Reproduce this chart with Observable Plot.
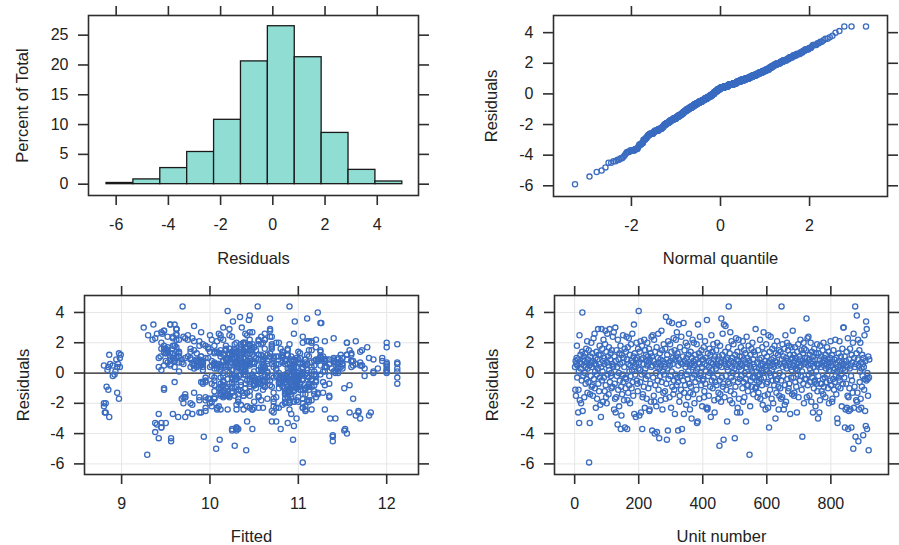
<!DOCTYPE html>
<html><head><meta charset="utf-8">
<script src="https://cdn.jsdelivr.net/npm/d3@7"></script>
<script src="https://cdn.jsdelivr.net/npm/@observablehq/plot@0.6"></script>
<style>
body{margin:0;background:#fff;}
#wrap{position:relative;width:899px;height:545px;overflow:hidden;font-family:"Liberation Sans",Arial,Helvetica,sans-serif;}
#wrap svg{position:absolute;}
</style></head><body><div id="wrap"></div>
<script>
// Histogram
const histBreaks = [-6.37,-5.34,-4.31,-3.28,-2.25,-1.22,-0.19,0.84,1.87,2.90,3.93,4.96];
const histPercent = [0.2,0.8,2.7,5.4,10.8,20.6,26.5,21.3,8.6,2.4,0.45];

// Residuals in unit order (unit number = position + 1)
const residuals = [
0.4,-1.1,0.8,-1.5,0.6,1.0,1.8,-0.3,0.5,0.9,-2.6,-1.1,0.1,-3.3,2.5,-1.8,0.7,1.2,0.3,-2.0,0.6,-0.5,1.4,4.0,-2.5,0.9,-0.2,1.1,0.5,-1.6,0.8,0.0,1.3,-0.7,0.4,1.6,-0.4,0.7,2.1,-1.3,
0.3,0.9,-0.6,1.5,-5.9,0.5,-3.3,-1.4,1.1,-0.2,0.7,2.0,-0.9,0.4,1.3,-0.8,-1.5,0.8,2.3,-0.4,0.6,2.6,-1.0,0.1,1.0,-2.3,0.5,1.4,-0.1,-1.7,0.9,0.3,2.9,-0.7,1.2,-1.2,0.6,1.8,-0.3,-2.1,
1.2,-2.9,0.4,2.9,-0.5,1.6,0.1,-1.9,0.8,2.2,-0.3,1.0,0.6,-1.2,1.9,2.8,-0.8,-1.6,1.4,-2.0,0.7,2.6,-0.1,1.1,0.5,-1.4,1.7,0.2,2.9,-0.6,0.9,1.3,-0.2,0.0,-1.0,1.5,0.6,-0.9,2.4,0.4,
0.5,2.7,-2.4,1.1,-0.7,-1.7,3.0,-2.6,0.8,-1.6,1.5,-0.2,0.4,-3.4,2.2,-1.1,0.9,0.0,-2.2,1.3,-0.5,0.6,1.8,-3.7,-0.9,-2.8,1.2,-1.4,0.7,-0.1,2.5,-0.6,1.0,-1.8,0.4,1.6,-3.6,-0.3,-1.0,1.4,
-0.4,2.4,0.9,-3.7,-1.8,1.7,-1.3,0.6,2.3,-0.8,0.1,1.2,-2.0,0.5,-0.2,1.9,0.8,-1.0,0.2,2.6,-0.6,0.7,-1.5,1.1,3.2,-2.7,0.4,1.3,-0.1,0.9,-2.9,0.6,2.0,-0.5,1.0,-0.7,-1.2,1.6,0.3,4.1,
0.7,-2.8,1.4,0.2,-0.6,2.1,-2.6,0.9,-0.1,1.8,-3.7,-1.6,-1.4,1.0,0.6,-0.9,2.2,0.0,-2.3,1.5,0.3,-0.4,1.2,0.8,-1.7,0.5,2.0,-0.2,1.1,-1.0,0.7,1.6,-2.5,-2.4,0.9,-0.7,1.3,-1.9,0.4,2.4,
1.1,-3.8,0.5,2.5,-0.3,0.8,-1.5,2.2,-1.9,-4.0,1.4,-0.8,0.6,0.0,-2.2,1.7,-3.9,0.4,-0.5,1.0,2.6,-1.1,0.7,-4.3,0.3,1.3,-0.2,0.9,-1.8,0.5,2.8,-0.6,1.5,-2.4,0.1,0.8,-1.3,1.9,-0.1,0.6,
0.4,-1.2,1.6,-1.7,3.7,-0.7,0.9,-4.4,1.2,0.3,-3.8,2.1,-0.4,0.7,3.4,-1.6,0.5,1.9,-0.2,0.8,-2.3,1.4,0.1,3.3,-0.9,0.6,1.0,-1.4,2.3,-0.5,-1.1,1.5,-2.7,0.9,-0.1,2.2,1.1,-0.8,2.7,-0.3,
1.3,-0.6,-3.8,0.5,3.2,0.9,-1.9,-1.5,1.7,-0.2,0.7,-1.1,2.4,0.0,-3.7,0.6,-4.5,1.1,-0.5,3.3,-2.7,-1.3,1.5,0.8,-0.8,0.4,2.0,-2.1,1.0,-0.1,0.6,1.8,-0.4,-1.6,0.1,1.2,2.6,-0.7,0.5,-2.4,
-1.3,1.4,-0.9,0.6,-3.0,1.0,-0.3,2.2,0.4,-1.4,0.8,2.0,-0.1,-2.0,0.5,1.2,-0.6,0.9,0.1,-1.1,1.9,-3.3,0.3,-3.2,3.2,0.7,-0.4,1.3,-1.7,0.6,2.4,-0.2,1.1,0.0,-0.8,1.5,0.4,-2.2,0.9,-0.5,
0.9,-0.4,1.7,-1.6,-1.2,0.6,2.1,-0.7,1.0,0.1,-2.3,0.5,3.5,-2.4,-2.3,1.3,-0.2,0.8,-1.5,0.4,1.6,0.0,-0.9,1.2,-2.9,0.7,2.5,-0.5,0.2,1.4,-1.0,0.6,1.9,-0.3,0.9,-1.8,-2.6,1.1,-0.6,0.5,
0.3,1.5,-0.8,0.6,2.0,-0.1,0.9,-1.7,-1.3,1.1,0.5,-4.8,-0.5,1.8,-1.4,0.7,-1.9,3.6,0.4,-0.3,1.2,2.6,-0.9,-0.7,-4.4,3.2,0.8,-1.6,0.6,1.4,3.1,-0.2,0.9,-1.1,0.4,-3.2,1.0,0.2,-0.6,1.7,
4.4,0.6,-0.7,1.3,-1.8,2.7,-1.2,0.8,-0.3,2.1,0.4,-2.0,1.0,0.0,-0.5,1.9,0.7,-1.4,0.3,-4.3,1.2,-0.9,0.5,2.3,-0.1,0.9,-2.6,1.4,-2.3,-0.6,0.8,2.2,-1.7,0.4,1.1,-0.4,-2.6,0.6,1.7,0.2,
-0.2,1.1,0.5,-1.0,2.1,-1.9,-0.6,0.9,1.5,-1.6,0.0,0.7,1.3,-0.4,-3.2,0.4,2.4,-0.8,0.6,1.0,-1.2,-0.8,1.8,-0.1,0.8,-5.4,0.5,-2.2,1.2,-0.5,0.3,1.6,-0.9,0.1,2.0,-0.3,0.9,-1.4,0.6,1.4,
0.4,-0.3,1.2,-1.0,2.9,-1.0,-0.9,0.1,-0.5,0.7,-1.6,-0.2,1.5,-1.3,0.3,-0.6,0.9,-0.1,2.2,-1.7,0.5,-0.4,1.0,0.2,-0.8,1.7,-2.1,0.6,0.0,2.7,-0.3,1.3,-1.5,0.4,0.8,-2.4,0.2,1.9,-0.7,0.5,
1.1,-0.6,-1.4,-2.3,2.5,0.7,-3.6,0.0,1.4,-1.1,0.5,2.4,-0.2,0.9,-1.7,0.2,1.6,-0.5,0.6,-2.0,1.0,0.4,-0.8,1.8,-0.1,0.8,-3.0,1.3,-0.5,-1.3,0.7,2.1,-0.4,0.5,1.2,-0.9,-2.4,1.5,-1.5,0.0,
0.6,-1.0,1.4,-1.7,-0.5,4.4,0.9,-1.6,1.9,0.4,-0.2,1.1,-2.4,0.7,1.6,-2.1,-0.8,2.5,0.5,-1.9,1.0,0.3,2.0,-0.4,0.8,1.5,-1.2,-1.0,1.8,-0.7,0.6,1.2,-2.7,0.4,0.9,-0.3,1.7,0.2,-1.4,1.0,
2.8,0.5,-0.3,1.2,-1.5,-1.3,0.8,1.7,-0.6,0.3,1.0,-0.9,0.6,-2.6,1.4,0.2,-0.1,1.9,-1.6,0.7,0.4,1.1,-0.5,0.9,2.2,-0.2,0.5,1.5,-1.1,0.1,-4.2,0.8,1.3,-0.7,2.0,-2.0,1.6,0.6,-0.4,1.0,
0.7,1.5,-0.4,3.6,-1.6,1.0,2.3,-0.8,0.5,2.4,-0.1,0.9,-1.5,1.2,0.3,-0.6,2.0,0.6,-1.9,0.0,1.4,-0.3,0.8,-2.6,1.1,0.4,-1.0,1.6,-0.6,-0.5,0.9,-2.2,1.3,0.1,-0.7,0.6,1.9,-1.2,0.5,-3.0,
-0.2,1.3,0.6,-2.6,0.9,-1.8,1.8,-0.7,0.4,1.1,-1.2,-0.7,0.7,1.5,-0.4,-1.4,2.0,-0.9,0.5,1.0,-0.3,0.8,-1.6,1.2,0.3,-0.6,0.6,1.7,-0.1,0.9,-1.0,0.4,1.4,-2.0,0.2,0.7,-0.5,1.0,2.1,-0.8,
0.5,-0.8,1.2,-1.9,-1.7,0.7,-0.4,1.5,0.2,-1.1,0.9,-0.6,0.3,2.2,-0.2,0.6,-1.4,1.0,0.1,-3.0,-3.3,0.4,-0.9,1.3,-0.3,0.8,2.1,-0.5,0.2,-1.0,1.1,0.5,-0.1,-2.2,0.7,1.6,-0.7,0.3,3.0,3.0,
0.6,-0.3,1.1,-3.6,0.2,-2.4,0.8,-0.7,1.4,-2.3,0.4,-1.5,2.3,-3.7,-1.6,-2.5,0.9,-1.0,0.3,1.6,-2.4,0.5,-0.2,-3.6,1.2,-0.5,0.7,-1.3,2.0,-5.0,2.6,-2.3,1.0,-0.9,0.4,4.4,-4.2,0.6,-1.8,1.3,
3.8,-1.9,-1.3,0.9,2.2,-4.5,0.5,-2.4,1.5,-0.6,0.1,2.0,-1.7,0.7,-2.3,0.3,-0.9,1.2,-0.2,0.6,-4.1,1.0,0.4,-1.1,2.5,-0.4,-2.5,0.8,-3.5,3.4,-0.5,2.9,-3.7,0.0,-0.4,-1.5,1.1,-5.1,-0.3,0.9
];

// Fitted values, same order
const fitted = [
10.35,9.48,10.92,10.12,11.05,9.62,10.45,10.98,9.85,10.28,8.82,10.6,11.3,9.38,10.22,9.95,10.82,11.55,10.4,8.8,11.1,10.05,9.52,11.22,10.7,11.85,10.33,9.9,12.0,10.88,10.15,11.42,8.97,10.5,10.95,9.78,11.0,10.25,11.65,10.42,
10.3,11.08,9.6,10.48,11.05,10.18,9.45,10.85,11.28,10.02,9.92,10.38,11.12,10.62,9.55,10.95,10.22,11.6,9.8,10.45,12.12,10.1,10.78,11.4,9.42,10.55,8.9,10.28,11.02,9.68,10.92,11.75,9.62,10.4,10.65,11.18,10.08,9.88,10.98,10.35,
10.42,8.86,11.15,10.22,10.6,10.88,8.93,10.32,11.48,10.15,10.72,9.58,11.02,10.25,10.9,9.48,10.5,11.35,10.05,8.82,11.7,10.4,10.95,9.65,10.2,11.08,10.35,12.0,10.68,10.78,11.25,10.12,8.9,10.58,10.98,9.52,11.45,10.3,10.68,8.95,
10.55,9.9,10.3,11.12,10.02,10.85,10.15,11.58,10.45,9.72,10.18,11.0,8.98,9.4,10.62,10.95,11.3,10.22,8.8,10.38,11.05,8.96,10.7,10.3,10.88,11.8,8.99,10.12,10.48,11.2,9.62,10.92,10.28,11.1,8.85,10.4,9.45,10.65,11.52,10.08,
10.95,9.52,10.25,10.32,11.15,10.5,8.95,10.78,11.4,10.05,10.38,8.86,10.9,11.62,10.15,9.92,10.42,11.08,10.6,9.46,10.85,11.3,10.2,11.25,9.55,9.58,10.98,10.3,8.92,11.0,9.72,10.45,12.0,10.68,9.98,11.12,10.35,10.8,11.9,10.2,
10.28,11.65,10.82,8.84,10.52,11.1,8.81,10.35,11.25,9.6,10.25,10.92,9.72,11.02,10.1,10.45,9.35,11.45,10.75,10.18,9.82,10.98,10.55,11.18,8.97,10.4,11.55,10.62,9.44,10.9,12.12,10.22,11.08,10.48,8.94,11.35,10.05,10.85,9.92,10.7,
10.6,11.52,10.15,9.3,10.88,11.22,10.38,9.62,10.95,11.55,10.25,10.5,8.87,11.05,10.02,10.7,9.38,11.32,10.42,8.98,10.62,11.12,10.3,9.56,10.88,9.85,11.0,10.2,10.58,11.7,9.48,10.82,10.35,11.15,9.65,11.95,10.12,10.48,10.92,10.05,
10.32,10.9,9.5,10.65,10.34,11.02,10.18,10.11,10.82,11.38,10.3,9.82,10.55,11.08,10.96,10.22,9.9,10.45,11.2,10.72,11.05,10.0,10.4,11.26,8.83,11.5,10.28,10.85,9.58,10.98,10.12,11.15,9.42,10.6,10.35,9.75,10.92,11.3,10.48,10.05,
10.42,10.98,10.25,9.88,9.36,10.6,11.12,10.18,9.52,10.75,11.42,10.32,9.7,10.88,10.8,10.05,11.39,10.5,9.95,11.25,10.92,10.38,11.58,10.15,10.68,9.6,11.05,9.8,10.28,11.18,10.45,9.48,10.85,11.0,12.0,10.22,9.62,10.55,11.72,10.12,
10.85,10.3,11.1,9.92,11.36,10.52,10.95,9.65,11.3,10.2,10.02,10.75,10.4,11.05,9.55,11.6,10.62,9.85,11.18,8.85,12.12,9.5,10.9,10.42,9.55,11.45,10.25,10.68,9.98,10.1,10.58,10.48,9.75,11.0,10.15,10.88,9.42,10.72,11.22,10.28,
10.2,11.05,10.48,9.72,10.95,10.35,11.15,9.92,10.62,11.28,10.45,10.05,10.44,10.48,10.5,9.58,10.82,11.4,10.28,9.85,10.7,11.1,10.15,11.48,9.64,10.9,10.0,11.0,9.45,10.38,10.85,11.65,10.55,10.25,9.78,10.98,11.82,10.12,9.9,10.6,
10.95,10.38,11.12,9.82,10.6,10.25,11.32,10.05,10.72,9.55,10.45,10.28,10.88,10.18,11.05,9.92,10.5,11.1,10.32,10.98,11.55,9.4,10.82,10.12,10.94,9.6,10.65,11.2,10.4,9.48,9.82,10.9,10.22,11.02,12.0,10.75,10.35,11.42,10.55,9.98,
10.9,10.3,10.98,9.65,11.12,10.45,10.2,9.9,10.82,11.3,10.58,9.78,10.38,11.05,10.15,10.7,9.52,10.92,11.45,9.42,10.25,10.62,11.18,9.38,10.48,10.85,10.72,11.0,10.08,9.95,11.62,10.55,10.32,10.0,11.25,10.88,9.88,10.42,11.78,10.12,
10.28,10.75,11.08,10.4,9.88,10.95,10.15,11.35,10.52,9.7,10.65,11.15,9.5,10.85,10.7,10.22,11.05,10.35,9.8,10.98,10.45,11.58,10.05,10.62,9.6,9.29,11.25,10.1,10.88,10.55,12.12,9.45,11.02,10.3,10.78,9.95,11.4,10.18,10.5,11.7,
10.62,11.0,10.25,10.9,9.62,10.92,10.88,10.4,11.15,9.85,10.55,10.98,10.12,11.28,10.75,10.35,9.55,11.08,10.45,10.0,11.5,10.2,10.82,9.92,10.6,11.2,10.3,10.7,11.85,9.45,10.48,11.02,10.15,9.78,10.95,10.38,12.0,10.58,11.12,10.08,
10.35,10.8,11.22,9.95,10.42,10.05,10.3,10.95,9.52,11.05,10.6,10.25,11.35,9.88,10.72,11.1,10.18,10.5,9.7,10.85,11.45,10.12,10.98,9.6,10.4,11.6,11.42,10.22,10.65,9.82,11.0,10.55,10.3,9.48,10.88,11.15,10.08,11.72,10.45,10.78,
10.88,10.28,9.62,11.05,10.45,10.54,10.95,10.15,10.35,11.3,10.7,9.9,11.08,10.5,10.22,10.82,11.18,9.75,10.4,10.02,11.5,10.62,9.45,10.98,10.3,11.25,10.85,10.1,9.58,10.58,11.65,10.42,9.8,10.92,10.2,11.12,12.0,10.75,10.32,11.95,
10.68,10.95,10.3,11.1,10.55,10.88,9.85,10.42,11.28,10.05,10.72,10.98,9.55,11.68,10.25,10.6,11.02,10.38,9.95,11.4,10.18,10.82,10.5,9.68,11.2,10.92,10.12,10.45,11.08,12.12,11.39,10.35,9.5,10.78,11.55,10.0,10.62,10.28,11.15,9.78,
10.45,11.12,10.78,10.68,10.05,11.25,9.72,10.92,10.32,9.58,10.98,11.45,10.2,10.58,11.05,9.92,10.38,10.85,11.0,10.15,9.65,10.5,11.3,9.9,10.72,11.6,10.25,9.48,10.95,10.62,11.2,10.42,10.1,11.85,10.8,12.0,10.28,10.88,9.82,11.7,
10.98,10.35,11.1,9.75,10.55,10.9,9.95,10.22,11.32,10.68,10.05,11.02,10.42,9.52,10.8,11.18,10.3,10.62,8.8,11.4,10.12,10.95,9.88,10.48,11.05,10.25,10.75,9.62,10.85,11.55,10.18,10.4,11.25,9.7,10.58,12.0,10.92,11.8,10.08,10.5,
10.4,10.95,10.15,10.72,11.62,9.85,11.05,10.28,10.55,10.9,9.6,11.2,10.35,10.02,10.82,11.35,10.2,9.72,10.65,10.98,10.88,11.48,10.12,10.45,11.0,9.92,11.12,10.6,10.25,9.48,10.78,11.72,10.38,11.08,10.5,9.98,12.12,10.08,9.25,10.36,
10.65,10.98,10.3,9.45,11.15,10.2,10.85,10.45,9.78,10.6,11.05,10.38,10.12,11.53,10.75,9.95,11.3,10.52,10.92,10.28,10.9,10.02,11.1,10.3,10.55,10.82,9.65,11.22,10.4,10.07,10.95,11.05,10.18,10.7,11.45,9.69,9.93,10.35,9.88,11.6,
10.45,10.9,10.25,11.08,10.62,9.56,10.35,11.3,9.82,10.98,10.5,11.15,10.05,9.68,10.78,11.5,10.2,10.88,11.75,10.4,11.39,9.95,10.72,11.02,10.12,10.55,11.68,9.5,10.95,10.26,11.2,9.62,10.48,12.0,10.85,11.35,10.3,10.41,12.12,10.58
];

// Tick values
const histXTicks = [-6,-4,-2,0,2,4];
const histYTicks = [0,5,10,15,20,25];
const qqXTicks = [-2,0,2];
const residTicks = [-6,-4,-2,0,2,4];
const fittedTicks = [9,10,11,12];
const unitTicks = [0,200,400,600,800];

// Inverse standard normal (Acklam)
function qnorm(p){
  const a=[-3.969683028665376e+01,2.209460984245205e+02,-2.759285104469687e+02,1.383577518672690e+02,-3.066479806614716e+01,2.506628277459239e+00];
  const b=[-5.447609879822406e+01,1.615858368580409e+02,-1.556989798598866e+02,6.680131188771972e+01,-1.328068155288572e+01];
  const c=[-7.784894002430293e-03,-3.223964580411365e-01,-2.400758277161838e+00,-2.549671010336161e+00,4.374664141464968e+00,2.938163982698783e+00];
  const d=[7.784695709041462e-03,3.224671290700398e-01,2.445134137142996e+00,3.754408661907416e+00];
  const pl=0.02425, ph=1-pl; let q,r;
  if(p<pl){q=Math.sqrt(-2*Math.log(p));return (((((c[0]*q+c[1])*q+c[2])*q+c[3])*q+c[4])*q+c[5])/((((d[0]*q+d[1])*q+d[2])*q+d[3])*q+1);}
  if(p>ph){q=Math.sqrt(-2*Math.log(1-p));return -(((((c[0]*q+c[1])*q+c[2])*q+c[3])*q+c[4])*q+c[5])/((((d[0]*q+d[1])*q+d[2])*q+d[3])*q+1);}
  q=p-0.5;r=q*q;return (((((a[0]*r+a[1])*r+a[2])*r+a[3])*r+a[4])*r+a[5])*q/(((((b[0]*r+b[1])*r+b[2])*r+b[3])*r+b[4])*r+1);
}

const n = residuals.length;
const rows = residuals.map((r,i)=>({unit:i+1, fit:fitted[i], res:r}));
const qq = residuals.slice().sort(d3.ascending).map((r,i)=>({q:qnorm((i+0.5)/n), res:r}));
const bins = histPercent.map((p,i)=>({x1:histBreaks[i], x2:histBreaks[i+1], pct:p}));

const INK = "#222", FRAME = "#2e2e2e", PT = "#3a6cc0";
const fmt = d => String(d);
const blank = () => "";

function panel(o){
  const marks = [];
  if (o.grid) {
    marks.push(Plot.gridX(o.xticks, {stroke:"#e6e6e6", strokeOpacity:1}));
    marks.push(Plot.gridY(o.yticks, {stroke:"#e6e6e6", strokeOpacity:1}));
  }
  marks.push(...o.marks);
  marks.push(Plot.frame({stroke:FRAME, strokeWidth:1.6}));
  marks.push(Plot.axisX({ticks:o.xticks, anchor:"bottom", tickSize:10, tickPadding:13, tickFormat:fmt, label:null, stroke:FRAME, strokeWidth:1.6, fill:INK, fontSize:16}));
  marks.push(Plot.axisX({ticks:o.xticks, anchor:"top", tickSize:10, tickFormat:blank, label:null, stroke:FRAME, strokeWidth:1.6}));
  marks.push(Plot.axisY({ticks:o.yticks, anchor:"left", tickSize:10, tickPadding:10, tickFormat:fmt, label:null, stroke:FRAME, strokeWidth:1.6, fill:INK, fontSize:16}));
  marks.push(Plot.axisY({ticks:o.yticks, anchor:"right", tickSize:10, tickFormat:blank, label:null, stroke:FRAME, strokeWidth:1.6}));
  marks.push(Plot.text([o.xlabel], {frameAnchor:"bottom", dy:o.xdy, lineAnchor:"middle", textAnchor:"middle", fontSize:16.5, fill:INK}));
  marks.push(Plot.text([o.ylabel], {frameAnchor:"left", dx:o.ydx, rotate:-90, lineAnchor:"middle", textAnchor:"middle", fontSize:16.5, fill:INK}));
  const svg = Plot.plot({
    width:o.width, height:o.height,
    marginLeft:o.ml, marginRight:o.mr, marginTop:o.mt, marginBottom:o.mb,
    style:{fontFamily:'"Liberation Sans", Arial, Helvetica, sans-serif', fontSize:"16px", color:INK, background:"transparent", overflow:"visible"},
    x:{domain:o.xdom, label:null},
    y:{domain:o.ydom, label:null},
    marks
  });
  svg.style.left = o.left + "px";
  svg.style.top = o.top + "px";
  document.getElementById("wrap").appendChild(svg);
}

const resDom = [-6.7, 5.12];
const dotOpts = {r:2.6, stroke:PT, strokeWidth:1.3, fill:"none"};

// Top-left: histogram
panel({left:0, top:0, width:450, height:272, ml:88, mr:32, mt:15, mb:77,
  xdom:[-7.06,5.58], ydom:[-1.9,28.3], xticks:histXTicks, yticks:histYTicks,
  xlabel:"Residuals", ylabel:"Percent of Total", xdy:63, ydx:-66,
  marks:[Plot.rectY(bins, {x1:"x1", x2:"x2", y1:0, y2:"pct", fill:"#8fddd3", stroke:"#1a1a1a", strokeWidth:1.3})]});

// Top-right: normal QQ
panel({left:450, top:0, width:449, height:272, ml:103, mr:12, mt:15, mb:76,
  xdom:[-3.75,3.75], ydom:resDom, xticks:qqXTicks, yticks:residTicks,
  xlabel:"Normal quantile", ylabel:"Residuals", xdy:62.5, ydx:-61.5,
  marks:[Plot.dot(qq, {x:"q", y:"res", ...dotOpts})]});

// Bottom-left: residuals vs fitted
panel({left:0, top:272, width:450, height:273, ml:84, mr:32, mt:23, mb:71,
  xdom:[8.58,12.36], ydom:resDom, xticks:fittedTicks, yticks:residTicks, grid:true,
  xlabel:"Fitted", ylabel:"Residuals", xdy:62.7, ydx:-61,
  marks:[Plot.ruleY([0], {stroke:"#222", strokeWidth:1.3}),
         Plot.dot(rows, {x:"fit", y:"res", ...dotOpts})]});

// Bottom-right: residuals vs unit number
panel({left:450, top:272, width:449, height:273, ml:104, mr:11, mt:23, mb:71,
  xdom:[-63,980], ydom:resDom, xticks:unitTicks, yticks:residTicks, grid:true,
  xlabel:"Unit number", ylabel:"Residuals", xdy:62.7, ydx:-62,
  marks:[Plot.ruleY([0], {stroke:"#222", strokeWidth:1.3}),
         Plot.dot(rows, {x:"unit", y:"res", ...dotOpts})]});
</script>
</body></html>
